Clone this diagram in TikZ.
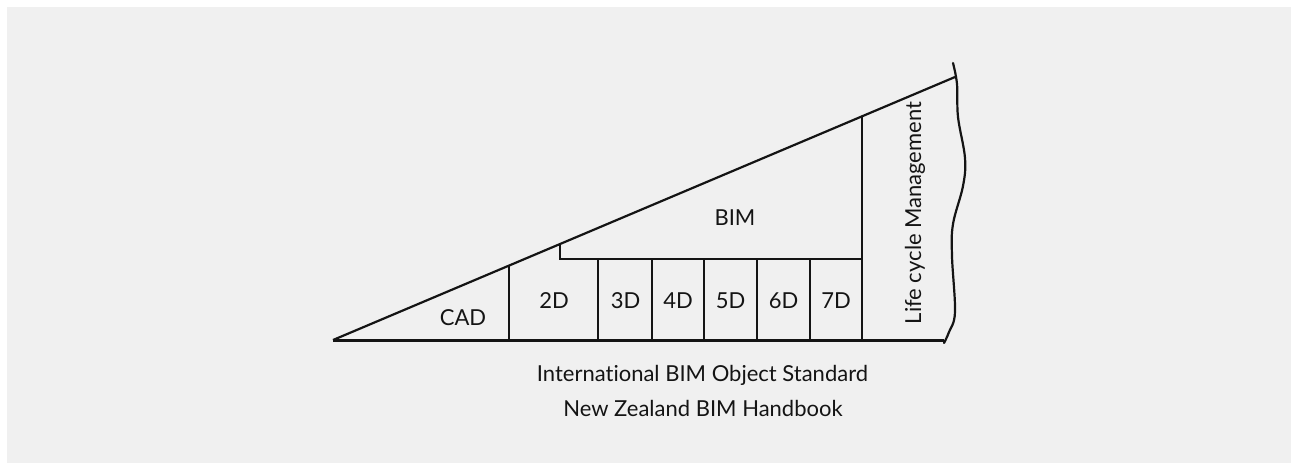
\documentclass[tikz,border=0pt]{standalone}
\usepackage{fontspec}
\setmainfont{Lato}[Ligatures=NoCommon]
\begin{document}
\begin{tikzpicture}[x=0.5pt,y=-0.5pt,
  line/.style={draw=black!92,line width=1.1pt,line join=miter},
  base/.style={draw=black!92,line width=1.5pt},
  lbl/.style={font=\fontsize{11}{13}\selectfont,text=black!92,inner sep=0pt}]
  % canvas
  \useasboundingbox (0,0) rectangle (1291,463);
  \fill[white] (0,0) rectangle (1291,463);
  \fill[black!6] (7,7) rectangle (1291,463);

  % key points of the wedge
  \coordinate (tip) at (333,340);
  \coordinate (top) at (955,77);
  \coordinate (baseR) at (944,340);
  \coordinate (cadTop) at (509,265);
  \coordinate (bimCorner) at (560,244);
  \coordinate (bimStep) at (560,259);
  \coordinate (bimEnd) at (862,259);
  \coordinate (lcmTop) at (862,116);

  % outline
  \draw[line] (tip) -- (top);
  \draw[base] (tip) -- (baseR);
  \draw[line] (cadTop) -- (509,340);
  \draw[line] (bimCorner) -- (bimStep) -- (bimEnd);
  \draw[line] (lcmTop) -- (862,340);
  \foreach \x in {598,652,704,757,810}
    \draw[line] (\x,259) -- (\x,340);

  % torn right edge
  \draw[line,line cap=round] plot[smooth,tension=0.6] coordinates
    {(953,63) (957,84) (958,117) (965,158) (963,186) (953,224) (952,256) (955,312) (949,332) (944,343)};

  % labels
  \node[lbl] (cad) at (463,318) {CAD};
  \node[lbl] (d2) at (554,301) {2D};
  \node[lbl] (d3) at (625.5,301) {3D};
  \node[lbl] (d4) at (678,301) {4D};
  \node[lbl] (d5) at (730.5,301) {5D};
  \node[lbl] (d6) at (783.5,301) {6D};
  \node[lbl] (d7) at (836,301) {7D};
  \node[lbl] (bim) at (735,217.5) {BIM};
  \node[lbl,rotate=90] (lcm) at (915,213) {Life cycle Management};

  \node[lbl] (std) at (702.5,375) {Internat\kern0pt ional BIM Object Standard};
  \node[lbl] (nz) at (703,408) {New Zealand BIM Handbook};
\end{tikzpicture}
\end{document}
